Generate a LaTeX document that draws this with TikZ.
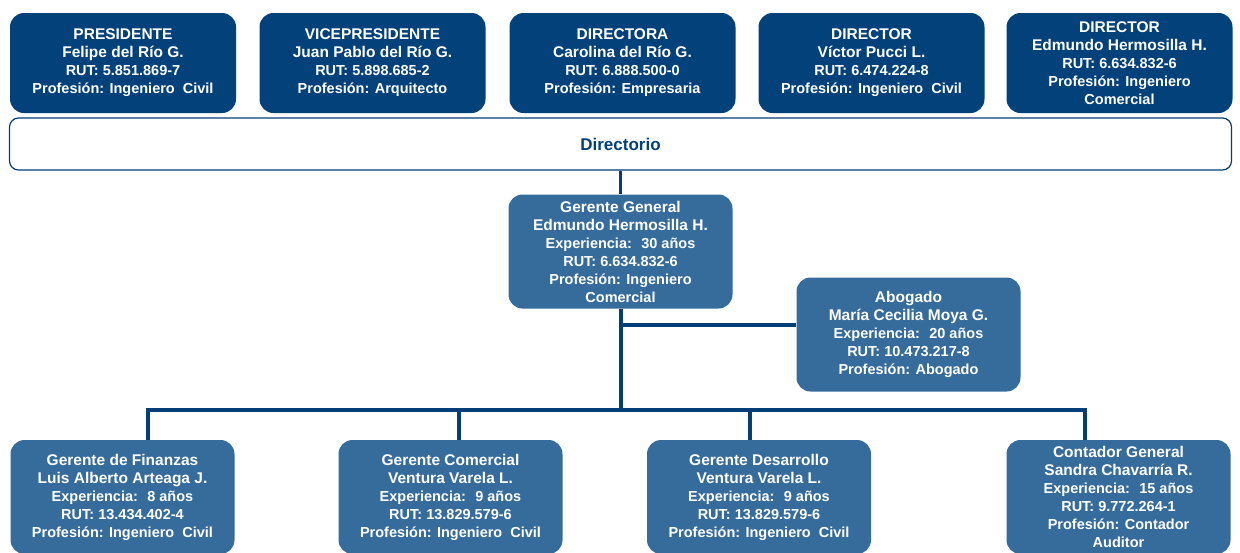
\documentclass[tikz,border=0pt]{standalone}
\usepackage{fontspec}
\setmainfont{Liberation Sans}
\usepackage{tikz}
\definecolor{navy}{RGB}{2,65,122}
\definecolor{steel}{RGB}{54,108,156}
\definecolor{wire}{RGB}{4,62,118}
\tikzset{%
    dbox/.style={rounded corners=14pt,fill=navy,text=white,align=center,inner sep=0pt,
        font=\bfseries\fontsize{14.5}{18}\selectfont,minimum width=226pt,minimum height=100pt},
    mbox/.style={dbox,fill=steel,minimum width=224pt,minimum height=114pt},
    barbox/.style={draw=wire,line width=1.2pt,rounded corners=9pt,text=navy,
        font=\bfseries\fontsize{17}{20}\selectfont,minimum width=1222pt,minimum height=52pt}
}
\newcommand{\hd}[1]{{\fontsize{15.5}{18}\selectfont #1}}

\begin{document}
\begin{tikzpicture}[x=1pt,y=-1pt,
            edge/.style={line width=4pt,draw=wire}
            ]
            \useasboundingbox (0,0) rectangle (1240,552);

            \node[dbox] (pres) at (123,63) {\hd{PRESIDENTE}\\\hd{Felipe del Río G.}\\RUT: 5.851.869-7\\Profesión: Ingeniero~ Civil};
            \node[dbox] (vice) at (372.5,63) {\hd{VICEPRESIDENTE}\\\hd{Juan Pablo del Río G.}\\RUT: 5.898.685-2\\Profesión: Arquitecto};
            \node[dbox] (dira) at (622.5,63) {\hd{DIRECTORA}\\\hd{Carolina del Río G.}\\RUT: 6.888.500-0\\Profesión: Empresaria};
            \node[dbox] (dirb) at (871.5,63) {\hd{DIRECTOR}\\\hd{Víctor Pucci L.}\\RUT: 6.474.224-8\\Profesión: Ingeniero~ Civil};
            \node[dbox] (dirc) at (1119.5,63) {\hd{DIRECTOR}\\\hd{Edmundo Hermosilla H.}\\RUT: 6.634.832-6\\Profesión: Ingeniero\\Comercial};

            \node[barbox] (dirio) at (620.5,144) {Directorio};

            \node[mbox] (gg) at (620.5,251.5) {\hd{Gerente General}\\\hd{Edmundo Hermosilla H.}\\Experiencia:~ 30 años\\RUT: 6.634.832-6\\Profesión: Ingeniero\\Comercial};
            \node[mbox] (abog) at (908.5,334.5) {\hd{Abogado}\\\hd{María Cecilia Moya G.}\\Experiencia:~ 20 años\\RUT: 10.473.217-8\\Profesión: Abogado};

            \node[mbox] (fin) at (122.5,497) {\hd{Gerente de Finanzas}\\\hd{Luis Alberto Arteaga J.}\\Experiencia:~ 8 años\\RUT: 13.434.402-4\\Profesión: Ingeniero~ Civil};
            \node[mbox] (com) at (450.5,497) {\hd{Gerente Comercial}\\\hd{Ventura Varela L.}\\Experiencia:~ 9 años\\RUT: 13.829.579-6\\Profesión: Ingeniero~ Civil};
            \node[mbox] (des) at (759,497) {\hd{Gerente Desarrollo}\\\hd{Ventura Varela L.}\\Experiencia:~ 9 años\\RUT: 13.829.579-6\\Profesión: Ingeniero~ Civil};
            \node[mbox] (cont) at (1118.5,497) {\hd{Contador General}\\\hd{Sandra Chavarría R.}\\Experiencia:~ 15 años\\RUT: 9.772.264-1\\Profesión: Contador\\Auditor};

            \coordinate (bus) at (620.5,410);
            \draw[edge,line width=3pt] (dirio.south) -- (gg.north);
            \draw[edge] (gg.south) -- (bus);
            \draw[edge] ([yshift=10pt]abog.west) -| (bus);
            \draw[edge] ([xshift=25.5pt]fin.north) -- ++(0,-30) -| ([xshift=-33.5pt]cont.north);
            \draw[edge] ([xshift=8.5pt]com.north) -- ++(0,-30);
            \draw[edge] ([xshift=-9pt]des.north) -- ++(0,-30);
        \end{tikzpicture}
\end{document}
